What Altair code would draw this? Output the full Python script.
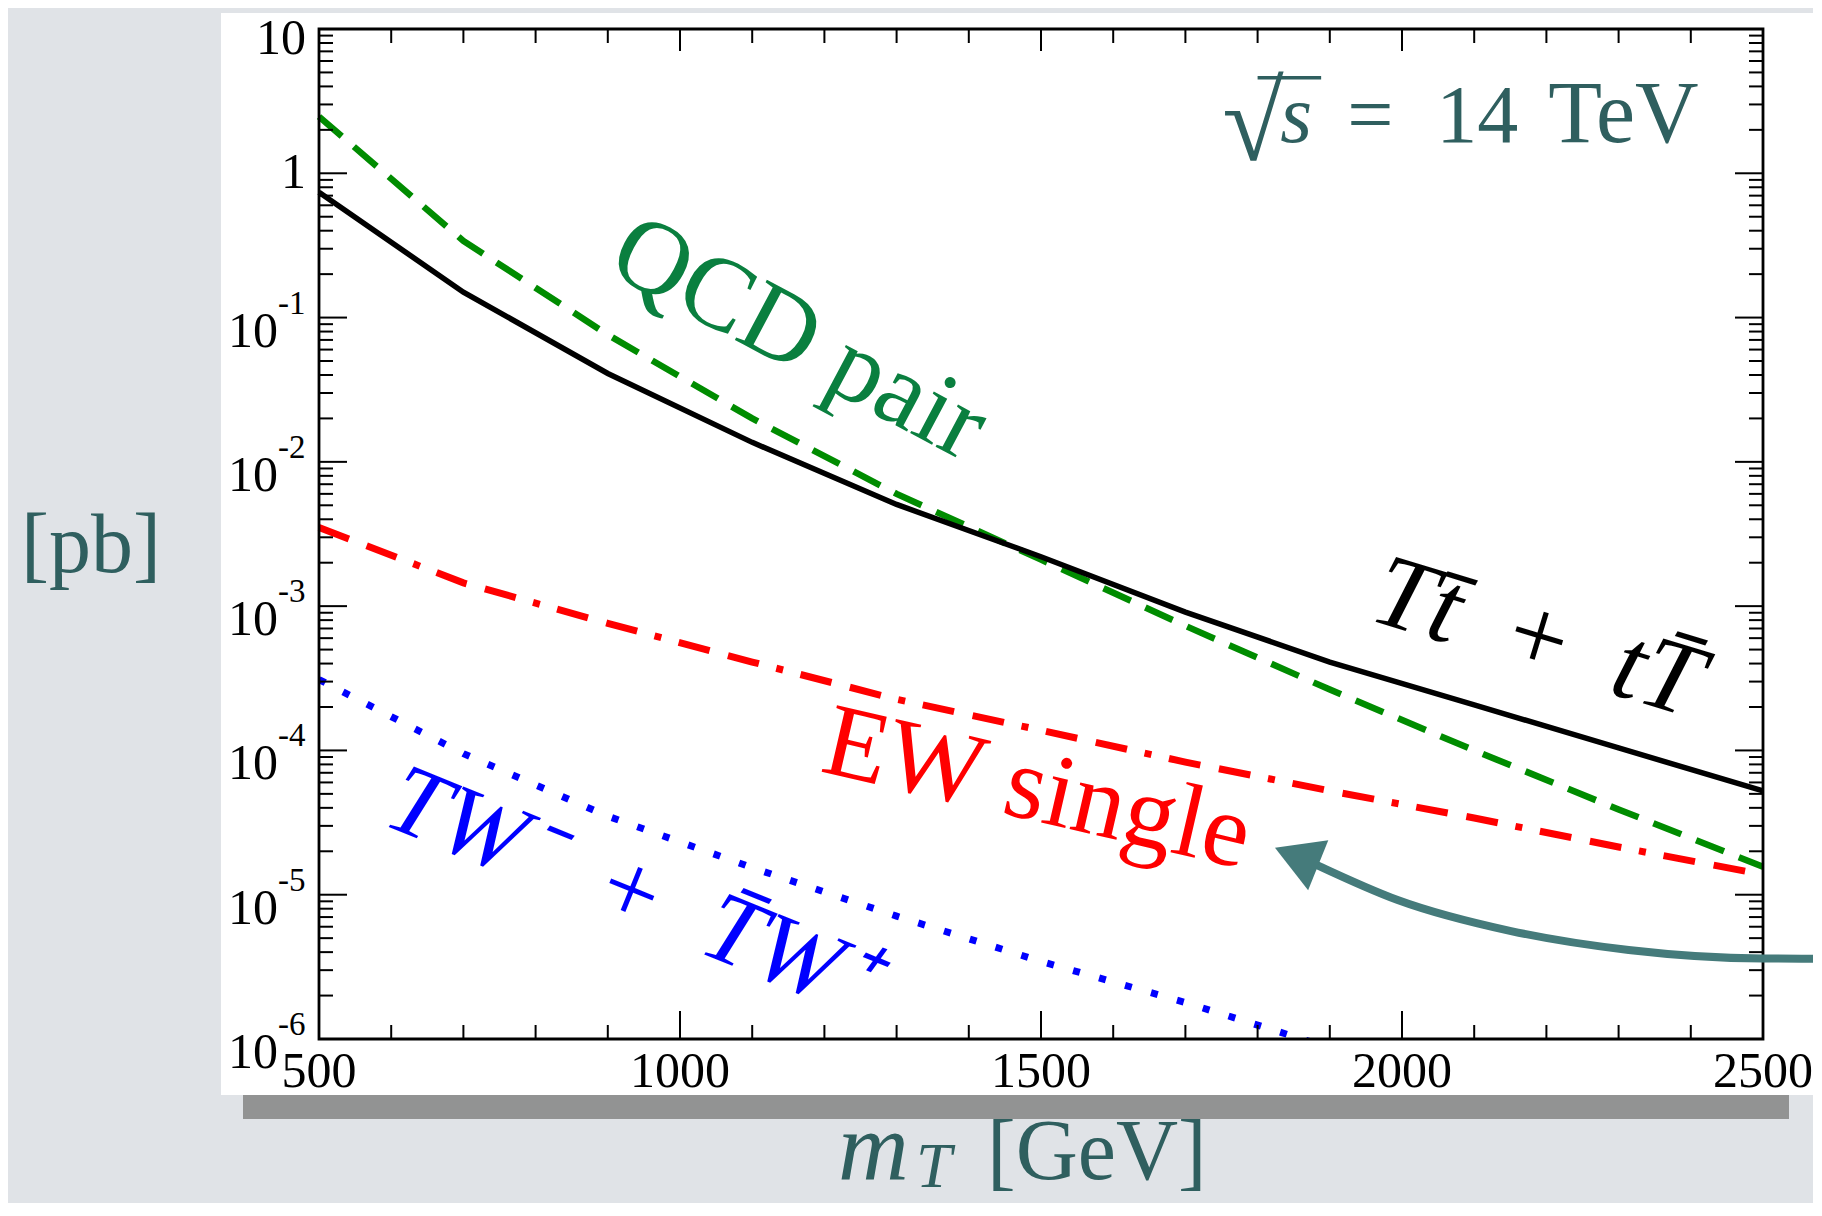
import altair as alt
import pandas as pd

# ---------------- data ----------------
mass = [500, 700, 900, 1100, 1300, 1500, 1700, 1900, 2100, 2300, 2500]
sigma_total = [0.738, 0.150, 0.041, 0.01365, 0.00507, 0.0022, 9.1e-4, 4.1e-4, 2.07e-4, 1.04e-4, 5.25e-5]
sigma_qcd = [2.47, 0.34, 0.076, 0.020, 0.006, 0.0021, 7.3e-4, 2.64e-4, 1.0e-4, 3.9e-5, 1.56e-5]
sigma_ew = [3.51e-3, 1.45e-3, 7.6e-4, 4.1e-4, 2.26e-4, 1.38e-4, 8.3e-5, 5.25e-5, 3.4e-5, 2.14e-5, 1.38e-5]
mass_tw = [500, 700, 900, 1100, 1300, 1500, 1700, 1900]
sigma_tw = [3.1e-4, 9.5e-5, 3.5e-5, 1.54e-5, 7.1e-6, 3.45e-6, 1.79e-6, 8.7e-7]

# curved annotation arrow (data coordinates)
arrow_m = [1883, 1994, 2151, 2314, 2500, 2575]
arrow_v = [1.6e-5, 9.2e-6, 5.6e-6, 4.14e-6, 3.61e-6, 3.6e-6]
arrow_head_m = [1854]
arrow_head_v = [1.84e-5]

x_major = [500, 1000, 1500, 2000, 2500]
x_minor = [m for m in range(600, 2500, 100) if m % 500 != 0]
y_major = [10.0 ** k for k in range(-6, 2)]
y_minor = [d * 10.0 ** k for k in range(-6, 1) for d in range(2, 10)]
y_plain_vals = [10, 1]
y_plain_labels = ["10", "1"]
y_exp_vals = [1e-1, 1e-2, 1e-3, 1e-4, 1e-5, 1e-6]
y_exp_labels = ["-1", "-2", "-3", "-4", "-5", "-6"]

W, H = 1444, 1010
SERIF = "Liberation Serif"
TEAL = "#2f5f5f"

xs = alt.Scale(domain=[500, 2500], nice=False, zero=False)
ys = alt.Scale(type="log", domain=[1e-6, 10], nice=False)
X = alt.X("m:Q", scale=xs, axis=None)
Y = alt.Y("v:Q", scale=ys, axis=None)

one = pd.DataFrame({"a": [0]})

shadow = alt.Chart(one).mark_rect(color="#7e7e7e", opacity=0.8).encode(
    x=alt.value(-76), x2=alt.value(W + 26), y=alt.value(H + 54), y2=alt.value(H + 80))
card = alt.Chart(one).mark_rect(color="white").encode(
    x=alt.value(-98), x2=alt.value(W + 52), y=alt.value(-16), y2=alt.value(H + 56))


def line(ms, vs, color, width, dash=None, clip=False):
    kw = dict(color=color, strokeWidth=width)
    if dash:
        kw["strokeDash"] = dash
    if clip:
        kw["clip"] = True
    return alt.Chart(pd.DataFrame({"m": ms, "v": vs})).mark_line(**kw).encode(x=X, y=Y)


l_tw = line(mass_tw, sigma_tw, "#0000ff", 7, [7, 20], clip=True)
l_ew = line(mass, sigma_ew, "#ff0000", 7, [32, 19, 32, 18, 7, 18])
l_qcd = line(mass, sigma_qcd, "#008c00", 6.5, [30, 16])
l_tot = line(mass, sigma_total, "#000000", 5.5)

frame = alt.Chart(one).mark_rect(fillOpacity=0, stroke="black", strokeWidth=2.8).encode(
    x=alt.value(0), x2=alt.value(W), y=alt.value(0), y2=alt.value(H))

dfxM = pd.DataFrame({"m": x_major})
dfxm = pd.DataFrame({"m": x_minor})
dfyM = pd.DataFrame({"v": y_major})
dfym = pd.DataFrame({"v": y_minor})
tk = dict(color="black", strokeWidth=2)
ticks = [
    alt.Chart(dfxM).mark_rule(**tk).encode(x=X, y=alt.value(H), y2=alt.value(H - 28)),
    alt.Chart(dfxm).mark_rule(**tk).encode(x=X, y=alt.value(H), y2=alt.value(H - 14)),
    alt.Chart(dfxM).mark_rule(**tk).encode(x=X, y=alt.value(0), y2=alt.value(22)),
    alt.Chart(dfxm).mark_rule(**tk).encode(x=X, y=alt.value(0), y2=alt.value(14)),
    alt.Chart(dfyM).mark_rule(**tk).encode(y=Y, x=alt.value(0), x2=alt.value(28)),
    alt.Chart(dfym).mark_rule(**tk).encode(y=Y, x=alt.value(0), x2=alt.value(14)),
    alt.Chart(dfyM).mark_rule(**tk).encode(y=Y, x=alt.value(W), x2=alt.value(W - 28)),
    alt.Chart(dfym).mark_rule(**tk).encode(y=Y, x=alt.value(W), x2=alt.value(W - 14)),
]

xlab = alt.Chart(pd.DataFrame({"m": x_major, "lab": [str(v) for v in x_major]})).mark_text(
    font=SERIF, fontSize=50, color="black", baseline="middle", align="center"
).encode(x=X, y=alt.value(H + 33), text="lab:N")

ylab_top = alt.Chart(pd.DataFrame({"v": y_plain_vals[:1], "lab": y_plain_labels[:1]})).mark_text(
    font=SERIF, fontSize=50, color="black", baseline="middle", align="right", dy=10
).encode(y=Y, x=alt.value(-13), text="lab:N")
ylab_one = alt.Chart(pd.DataFrame({"v": y_plain_vals[1:], "lab": y_plain_labels[1:]})).mark_text(
    font=SERIF, fontSize=50, color="black", baseline="middle", align="right"
).encode(y=Y, x=alt.value(-13), text="lab:N")
dfexp = pd.DataFrame({"v": y_exp_vals, "base": ["10"] * len(y_exp_vals), "ex": y_exp_labels})
ylab_base = alt.Chart(dfexp).mark_text(
    font=SERIF, fontSize=50, color="black", baseline="middle", align="right", dy=14
).encode(y=Y, x=alt.value(-41), text="base:N")
ylab_exp = alt.Chart(dfexp).mark_text(
    font=SERIF, fontSize=33, color="black", baseline="middle", align="left", dy=-14
).encode(y=Y, x=alt.value(-41), text="ex:N")


def note(m, v, txt, color, size, angle, italic=False, baseline="alphabetic", align="center", dx=0, dy=0):
    kw = dict(font=SERIF, fontSize=size, color=color, angle=angle, baseline=baseline, align=align, dx=dx, dy=dy)
    if italic:
        kw["fontStyle"] = "italic"
    return alt.Chart(pd.DataFrame({"m": [m], "v": [v], "t": [txt]})).mark_text(**kw).encode(
        x=X, y=Y, text="t:N")


qcd_txt = note(1165, 0.0711, "QCD pair", "#0a7f3f", 104, 28, baseline="middle")
ew_txt = note(1485, 3.3e-5, "EW single", "#ff0000", 104, 13)
tot_txt = note(2175, 3.7e-4, "Tt\u0304 \u2009+\u2009 tT\u0304", "#000000", 104, 17, italic=True)
tw_txt = note(915, 6.7e-6, "TW\u207b\u2002+\u2002T\u0304W\u207a", "#0000ff", 100, 22, italic=True)

# sqrt(s) = 14 TeV
am, av = 1740, 1.656
rs = [
    note(am, av, "\u221a", TEAL, 112, 0, align="left", dx=8, dy=18),
    note(am, av, "s", TEAL, 82, 0, italic=True, align="left", dx=66),
    note(am, av, "=", TEAL, 82, 0, align="left", dx=133),
    note(am, av, "14", TEAL, 82, 0, align="left", dx=222),
    note(am, av, "TeV", TEAL, 88, 0, align="left", dx=334),
]
vinc = alt.Chart(pd.DataFrame({"m": [1800], "m2": [1888], "v": [4.6]})).mark_rule(
    color=TEAL, strokeWidth=3.5).encode(x=X, x2="m2:Q", y=Y)


# axis titles
def ptext(x, y, txt, size, italic=False, align="left"):
    kw = dict(font=SERIF, fontSize=size, color=TEAL, baseline="alphabetic", align=align)
    if italic:
        kw["fontStyle"] = "italic"
    return alt.Chart(pd.DataFrame({"t": [txt]})).mark_text(**kw).encode(
        x=alt.value(x), y=alt.value(y), text="t:N")


ytitle = ptext(-228, 543, "[pb]", 84, align="center")
xt_m = ptext(519, 1150, "m", 98, italic=True)
xt_T = ptext(597, 1158, "T", 64, italic=True)
xt_g = ptext(668, 1150, "[GeV]", 86)

arrow = alt.Chart(pd.DataFrame({"m": arrow_m, "v": arrow_v})).mark_line(
    color="#457b7b", strokeWidth=8, interpolate="monotone", strokeCap="round").encode(x=X, y=Y)
head = alt.Chart(pd.DataFrame({"m": arrow_head_m, "v": arrow_head_v})).mark_point(
    shape="triangle-up", size=2900, filled=True, color="#457b7b", opacity=1, angle=292).encode(x=X, y=Y)

chart = alt.layer(
    shadow, card, l_tw, l_ew, l_qcd, l_tot, frame, *ticks, xlab, ylab_top, ylab_one, ylab_base, ylab_exp,
    qcd_txt, ew_txt, tot_txt, tw_txt, *rs, vinc, ytitle, xt_m, xt_T, xt_g, arrow, head
).properties(
    width=W, height=H,
    autosize=alt.AutoSizeParams(type="none"),
    padding={"left": 311, "top": 21, "right": 50, "bottom": 164},
    background="#e0e3e7",
).configure_view(stroke="transparent")

chart.save("out.html", embed_options={"renderer": "svg", "actions": False})
